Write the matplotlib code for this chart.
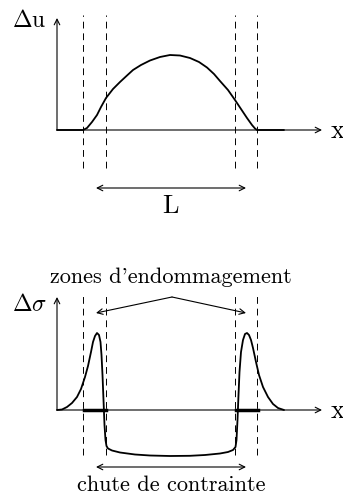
import matplotlib
matplotlib.use("Agg")
import matplotlib.pyplot as plt

plt.rcParams['font.family'] = 'serif'
plt.rcParams['font.serif'] = ['cmr10']
plt.rcParams['mathtext.fontset'] = 'cm'
plt.rcParams['axes.unicode_minus'] = False

# vertical dashed lines (limits of the damage zones)
x_dash = [2.65, 4.95, 17.85, 20.05]

# displacement jump  (top)
x_du = [0.0, 2.6, 3.0, 3.5, 4.0, 4.4, 4.9, 5.6, 6.3, 7.0, 7.6, 8.4, 9.3, 10.3, 11.3,
        12.3, 13.3, 14.2, 15.0, 15.7, 16.3, 17.1, 17.8, 18.4, 19.0, 19.5, 19.8, 20.0, 22.7]
du = [0.0, 0.0, 0.2, 0.8, 1.5, 2.3, 3.2, 4.1, 4.8, 5.45, 6.0, 6.5, 6.95, 7.3, 7.5,
      7.45, 7.2, 6.8, 6.25, 5.6, 4.9, 4.0, 3.0, 2.1, 1.2, 0.5, 0.15, 0.0, 0.0]

# stress change (bottom)
x_ds = [0.0, 0.5, 1.0, 1.5, 2.0, 2.4, 2.8, 3.1, 3.4, 3.6, 3.8, 4.0, 4.2, 4.35, 4.45,
        4.55, 4.65, 4.75, 4.85, 4.95, 5.1, 5.5, 6.3, 7.8, 9.3, 11.3, 13.3, 14.8, 16.3,
        17.1, 17.6, 17.85, 17.95, 18.05, 18.15, 18.25, 18.4, 18.6, 18.8, 19.0, 19.2,
        19.4, 19.6, 19.9, 20.2, 20.6, 21.1, 21.6, 22.1, 22.7]
ds = [0.0, 0.05, 0.3, 0.7, 1.3, 2.1, 3.3, 4.4, 5.8, 6.8, 7.4, 7.7, 7.5, 6.8, 5.5,
      3.5, 1.0, -1.5, -3.0, -3.6, -3.85, -4.05, -4.25, -4.45, -4.55, -4.6, -4.58, -4.5, -4.35,
      -4.2, -4.0, -3.7, -3.0, -1.0, 1.5, 3.8, 5.8, 7.0, 7.6, 7.7, 7.5,
      7.0, 6.2, 4.8, 3.5, 2.3, 1.3, 0.6, 0.2, 0.0]

zone_left = [2.7, 4.9]
zone_right = [17.9, 20.1]

fig = plt.figure(figsize=(3.43, 4.95), dpi=100)
ax1 = fig.add_axes([0, 0.5, 1, 0.5])
ax2 = fig.add_axes([0, 0, 1, 0.5])

def arrow(ax, tail, tip, style='->'):
    ax.annotate('', xy=tip, xytext=tail,
                arrowprops=dict(arrowstyle=style, lw=0.8, color='black',
                                shrinkA=0, shrinkB=0, mutation_scale=10))

# ---- top panel
ax1.set_xlim(-5.7, 28.6)
ax1.set_ylim(-11.75, 13.0)
ax1.axis('off')
arrow(ax1, (0, 0), (0, 11.2))
arrow(ax1, (0, 0), (26.5, 0))
for xd in x_dash:
    ax1.plot([xd, xd], [-3.8, 11.5], color='black', lw=0.7, ls=(0, (7, 5)))
ax1.plot(x_du, du, color='black', lw=1.3, solid_capstyle='round')
arrow(ax1, (3.9, -5.8), (18.9, -5.8), '<->')
ax1.text(11.35, -7.6, 'L', ha='center', va='center', fontsize=19)
ax1.text(-2.75, 10.9, r'$\Delta\mathrm{u}$', ha='center', va='center', fontsize=17)
ax1.text(28.05, -0.1, 'x', ha='center', va='center', fontsize=19)

# ---- bottom panel
ax2.set_xlim(-5.7, 28.6)
ax2.set_ylim(-8.5, 16.25)
ax2.axis('off')
arrow(ax2, (0, 0), (0, 11.3))
arrow(ax2, (0, 0), (26.5, 0))
for xd in x_dash:
    ax2.plot([xd, xd], [-4.5, 11.5], color='black', lw=0.7, ls=(0, (7, 5)))
ax2.plot(zone_left, [0, 0], color='black', lw=2.5)
ax2.plot(zone_right, [0, 0], color='black', lw=2.5)
ax2.plot(x_ds, ds, color='black', lw=1.3, solid_capstyle='round')
arrow(ax2, (3.9, -5.7), (18.9, -5.7), '<->')
arrow(ax2, (11.5, 11.3), (3.9, 9.7))
arrow(ax2, (11.5, 11.3), (18.9, 9.7))
ax2.text(11.4, 13.3, "zones d'endommagement", ha='center', va='center', fontsize=16)
ax2.text(11.4, -7.5, 'chute de contrainte', ha='center', va='center', fontsize=16)
ax2.text(-2.7, 10.5, r'$\Delta\sigma$', ha='center', va='center', fontsize=17)
ax2.text(28.05, -0.1, 'x', ha='center', va='center', fontsize=19)

fig.savefig('out.png', dpi=100)
